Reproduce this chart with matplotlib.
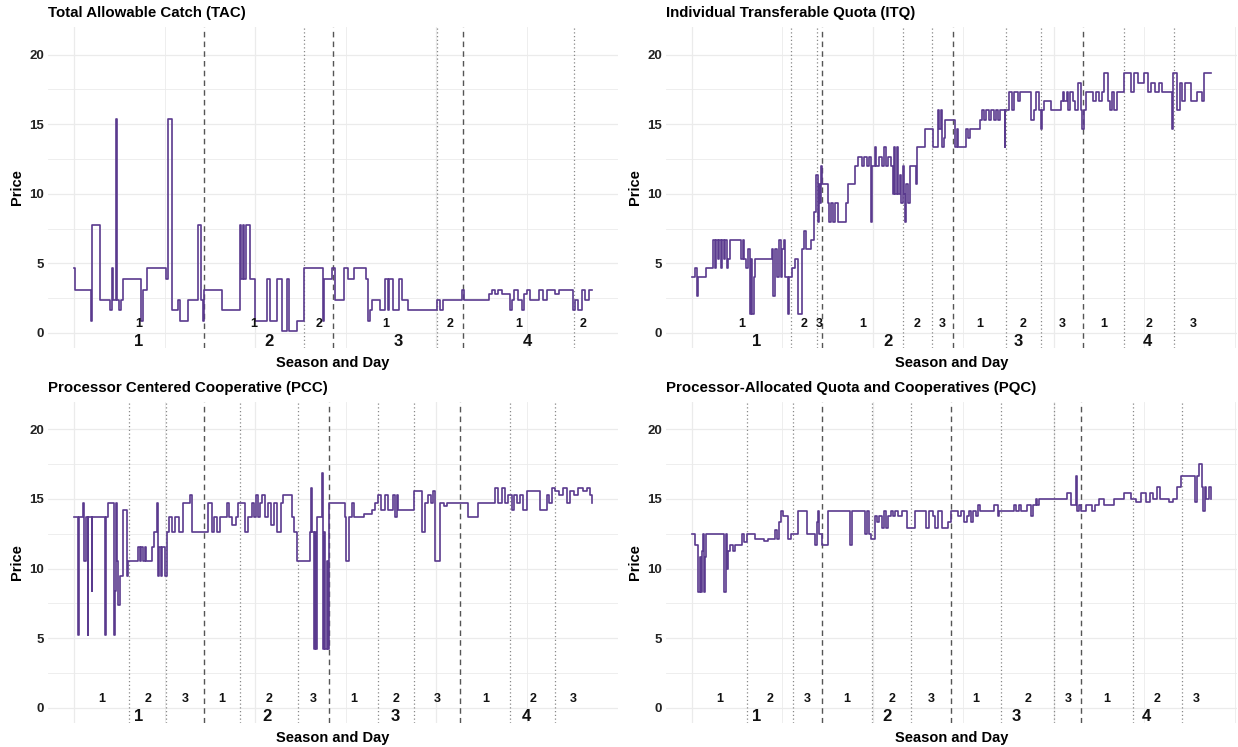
import matplotlib
matplotlib.use("Agg")
import matplotlib.pyplot as plt
import numpy as np

plt.rcParams['font.family'] = ['Liberation Sans', 'DejaVu Sans']

# step series: time of each price change (minutes from open) and the new price
tac_t = [0, 3, 47, 51, 72, 99, 104, 108, 116, 119, 125, 131, 136, 185, 191, 202, 254, 259, 271, 288,
         293, 315, 341, 350, 355,
         358, 408, 458, 462, 466, 470, 474, 486, 500, 534, 541, 561, 574, 587, 593, 615, 636, 686, 690, 712,
         716, 720, 746, 757, 774, 805, 811, 816, 822, 845, 857, 866, 870, 881, 897, 904, 921, 1001, 1010, 1019,
         1072, 1077, 1144, 1153, 1162, 1171, 1180, 1203, 1208, 1213, 1226, 1236, 1241, 1250, 1259, 1282, 1295,
         1305, 1328, 1337, 1378, 1383, 1392, 1401, 1410, 1420, 1430]
tac_p = [4.67, 3.1, 0.83, 7.74, 2.38, 1.62, 4.67, 2.38, 15.36, 2.38, 1.62, 2.38, 3.88, 0.83, 3.1, 4.67, 3.88, 15.36, 1.62, 2.38,
         0.83, 2.38, 7.74, 2.38, 0.83,
         3.1, 1.62, 7.74, 3.88, 7.74, 3.88, 7.74, 3.88, 0.83, 3.88, 0.83, 3.88, 0.12, 3.88, 0.12, 0.83, 4.67, 0.83, 3.88, 4.67,
         4.67, 2.38, 4.67, 3.88, 4.67, 3.88, 0.83, 1.62, 2.38, 1.62, 3.88, 1.62, 3.88, 1.62, 3.88, 2.38, 1.62, 2.38, 1.62, 2.38,
         3.1, 2.38, 2.8, 3.1, 2.8, 3.1, 2.8, 1.62, 2.38, 3.1, 2.38, 1.62, 2.8, 3.1, 2.38, 3.1, 2.38,
         3.1, 2.8, 3.1, 1.62, 2.38, 1.62, 3.1, 2.38, 3.1, 3.1]

itq_t = [0, 8, 14, 16, 40, 59, 63, 67, 71, 75, 80, 84, 88, 92, 96, 100, 104, 130, 135, 140, 145, 150, 155, 160,
         163, 166, 170, 174, 220, 224, 229, 236, 240, 246, 250, 255, 258, 264, 268, 276, 284, 293, 304, 310,
         314, 328, 338, 344, 348, 351, 354, 356, 360, 376, 380, 384, 390, 395, 404, 427, 432, 450, 458, 470,
         476, 484, 490, 496, 498, 506, 510, 516, 524, 530, 536, 542, 550, 556, 558, 562, 566, 570, 574, 578,
         582, 586, 588, 592, 598, 602, 620, 622, 643, 666, 680, 684, 688, 692, 696, 700,
         721, 726, 732, 736, 753, 758, 762, 768, 790, 796, 802, 808, 814, 820, 826, 834, 840, 846, 852, 864,
         866, 877, 884, 890, 900, 906, 937, 945, 950, 958, 965, 969, 974, 992, 1020, 1026, 1029, 1036, 1040,
         1046, 1052, 1060, 1066, 1075, 1078, 1084, 1090, 1110, 1118, 1126, 1134, 1140, 1149, 1155, 1160, 1168,
         1175, 1195, 1213, 1222, 1232, 1250, 1260, 1268, 1280, 1290, 1300, 1328, 1331, 1340, 1342, 1350, 1356,
         1362, 1380, 1397, 1410, 1416, 1436]
itq_p = [4.0, 4.67, 2.67, 4.0, 4.67, 6.67, 4.67, 6.67, 5.33, 6.67, 4.67, 6.67, 5.33, 6.67, 4.67, 5.33, 6.67, 6.67, 5.33, 6.67, 5.33, 4.67, 6.0, 1.33,
         5.33, 1.33, 4.0, 5.33, 6.0, 2.67, 6.0, 4.0, 6.67, 4.0, 6.0, 6.67, 4.0, 1.33, 4.0, 4.67, 5.33, 1.33, 6.0, 7.33,
         6.0, 6.67, 8.67, 11.33, 8.0, 10.67, 9.33, 12.0, 10.67, 9.33, 8.0, 9.33, 8.0, 9.33, 8.0, 9.33, 10.67, 12.0, 12.67, 12.0,
         12.67, 12.0, 12.67, 8.0, 12.0, 13.33, 12.0, 12.67, 12.0, 13.33, 12.0, 12.67, 12.0, 10.0, 13.33, 10.0, 13.33, 10.0, 11.33, 9.33,
         12.0, 10.0, 8.0, 10.67, 9.33, 12.0, 10.67, 13.33, 14.67, 13.33, 16.0, 14.67, 16.0, 13.33, 14.0, 15.33,
         15.33, 13.33, 14.67, 13.33, 13.33, 14.67, 14.0, 14.67, 14.67, 15.33, 16.0, 15.33, 16.0, 15.33, 16.0, 15.33, 16.0, 15.33, 16.0, 13.33,
         16.0, 17.33, 16.0, 17.33, 16.67, 17.33, 15.33, 16.0, 17.33, 16.0, 14.67, 16.0, 16.67, 16.0, 16.67, 17.33, 16.67, 17.33, 16.0,
         17.33, 16.67, 16.0, 18.0, 16.0, 14.67, 16.0, 17.33, 16.67, 17.33, 16.67, 17.33, 18.67, 16.67, 16.0, 17.33, 16.0,
         17.33, 18.67, 17.33, 18.67, 18.0, 18.67, 17.33, 18.0, 17.33, 18.0, 17.33, 14.67, 18.67, 17.33, 16.0, 18.0, 16.67,
         18.0, 16.67, 17.33, 16.67, 18.67, 18.67]

pcc_t = [0, 12, 15, 26, 29, 33, 38, 40, 49, 51, 86, 88, 95, 111, 113, 116, 118, 122, 127, 136, 145, 150, 178, 182,
         186, 190, 196, 200, 216, 220, 228, 233, 236, 240, 242, 251, 256, 262, 270, 280, 290, 302, 320, 325,
         371, 380, 386, 394, 402, 421, 428, 436, 446, 454, 472, 480, 490, 496, 502, 508, 514, 520, 526, 536,
         544, 552, 560, 570, 578, 601, 608, 615, 651, 654, 656, 662, 665, 668, 672, 684, 687, 690, 694, 698, 702,
         705, 748, 750, 759, 766, 772, 800, 822, 830, 840, 848, 858, 866, 881, 886, 890, 894, 900, 937, 960,
         969, 976, 984, 992, 996, 1010, 1020, 1030, 1088, 1116, 1162, 1171, 1180, 1188, 1199, 1208, 1214, 1222,
         1232, 1240, 1250, 1286, 1305, 1312, 1320, 1328, 1337, 1350, 1360, 1370, 1380, 1392, 1405, 1415, 1425, 1430]
pcc_p = [13.67, 5.26, 13.67, 14.74, 10.53, 13.67, 5.26, 13.67, 8.42, 13.67, 5.26, 13.67, 14.74, 5.26, 8.42, 14.74, 10.53, 7.37, 9.47, 14.21, 9.47, 10.53, 11.58, 10.53,
         11.58, 10.53, 11.58, 10.53, 11.58, 12.63, 14.74, 9.47, 11.58, 9.47, 11.58, 9.47, 12.63, 13.67, 12.63, 13.67, 12.63, 14.74, 15.26, 12.63,
         14.74, 12.63, 13.67, 12.63, 13.67, 14.74, 13.67, 13.16, 13.67, 14.74, 12.63, 13.67, 14.74, 13.67, 15.26, 13.67, 14.74, 15.26, 13.67, 14.74,
         13.16, 14.74, 12.63, 14.74, 15.26, 13.67, 12.63, 10.53, 12.63, 15.79, 12.63, 4.21, 12.63, 4.21, 13.67, 16.84, 4.21, 12.63, 4.21, 10.53, 4.21,
         14.74, 13.67, 10.53, 13.67, 14.74, 13.67, 13.9, 14.21, 14.74, 15.26, 14.21, 15.26, 14.21, 15.26, 13.67, 15.26, 14.21, 14.21, 15.58, 12.63,
         14.74, 15.26, 14.74, 15.58, 10.53, 14.74, 14.5, 14.74, 13.67, 14.74, 15.79, 14.74, 15.79, 14.74, 15.26, 14.21, 15.26, 14.74,
         15.26, 14.21, 15.58, 14.21, 15.26, 14.74, 15.79, 15.58, 15.26, 15.79, 14.74, 15.58, 15.26, 15.79, 15.58, 15.79, 15.26, 14.74]

pqc_t = [0, 8, 16, 22, 25, 28, 31, 34, 37, 40, 89, 94, 96, 100, 106, 114, 120, 137, 144, 151, 174, 200, 210, 229,
         236, 240, 247, 252, 266, 275, 293, 317, 340, 345, 349, 352, 358, 376, 436, 441, 478, 484, 490, 496,
         505, 512, 518, 524, 530, 536, 542, 550, 556, 562, 570, 580, 593, 616, 648, 656, 666, 672, 680, 690, 708,
         716, 735, 745, 752, 760, 767, 772, 778, 784, 790, 795, 836, 845, 850, 891, 897, 904, 910, 925, 937, 942,
         950, 955, 960, 1038, 1048, 1061, 1064, 1070, 1075, 1090, 1107, 1115, 1125, 1140, 1167, 1195, 1213, 1227,
         1240, 1255, 1265, 1275, 1285, 1295, 1320, 1330, 1342, 1351, 1390, 1395, 1402, 1411, 1414, 1418, 1422, 1428, 1436]
pqc_p = [12.5, 11.67, 8.33, 10.83, 8.33, 11.25, 12.5, 8.33, 10.83, 12.5, 8.33, 12.5, 10.0, 11.25, 11.67, 11.25, 11.67, 12.5, 11.9, 12.5, 12.1, 12.0, 12.1, 12.8,
         12.1, 13.33, 14.17, 13.75, 12.1, 12.5, 14.17, 12.5, 11.67, 13.33, 14.17, 12.5, 11.67, 14.17, 11.67, 14.17, 12.5, 14.17, 12.5, 12.1,
         13.75, 13.33, 13.75, 12.92, 14.17, 12.92, 13.75, 14.17, 13.75, 14.17, 13.75, 14.17, 12.92, 14.17, 12.92, 14.17, 13.75, 12.92, 14.17, 12.92, 13.33,
         14.17, 13.75, 14.17, 13.33, 13.75, 14.17, 13.33, 14.17, 13.75, 14.58, 14.17, 14.58, 13.75, 14.17, 14.58, 14.17, 14.58, 14.17, 14.58, 13.75, 14.58,
         15.0, 14.58, 15.0, 15.42, 14.58, 16.67, 14.17, 14.58, 14.17, 14.58, 14.17, 14.58, 15.0, 14.58, 15.0, 15.42, 15.0, 14.79,
         15.42, 14.79, 15.42, 15.0, 15.83, 15.0, 14.79, 15.0, 15.83, 16.67, 14.79, 16.67, 17.5, 15.83, 14.17, 15.83, 15.0, 15.83, 15.0]

# day edges inside each season (first and last entries are the season limits)
tac_days = [[0, 358], [358, 636, 716], [716, 1002, 1073], [1073, 1381, 1430]]
itq_days = [[0, 273, 346, 360], [360, 582, 664, 722], [722, 868, 964, 1081], [1081, 1195, 1333, 1436]]
pcc_days = [[0, 153, 254, 358], [358, 459, 617, 705], [705, 838, 937, 1066], [1066, 1204, 1328, 1430]]
pqc_days = [[0, 153, 278, 360], [360, 498, 606, 716], [716, 855, 1002, 1076], [1076, 1220, 1354, 1436]]

titles = ["Total Allowable Catch (TAC)", "Individual Transferable Quota (ITQ)",
          "Processor Centered Cooperative (PCC)", "Processor-Allocated Quota and Cooperatives (PQC)"]
panels = [(tac_t, tac_p, tac_days), (itq_t, itq_p, itq_days),
          (pcc_t, pcc_p, pcc_days), (pqc_t, pqc_p, pqc_days)]

LINE = '#5a3a8e'
GRID = '#ebebeb'

fig = plt.figure(figsize=(12.38, 7.47), dpi=100)
boxes = [[0.0388, 0.534, 0.4605, 0.430], [0.538, 0.534, 0.4615, 0.430],
         [0.0388, 0.032, 0.4605, 0.4305], [0.538, 0.032, 0.4615, 0.4305]]

for box, title, (t, p, days) in zip(boxes, titles, panels):
    ax = fig.add_axes(box)
    for s in ax.spines.values():
        s.set_visible(False)
    end = days[-1][-1]
    ax.set_xlim(-0.05 * end, end * 1.05)
    ax.set_ylim(-1.1, 22)
    ax.set_yticks([0, 5, 10, 15, 20])
    ax.set_yticks([2.5, 7.5, 12.5, 17.5], minor=True)
    ax.set_xticks([0, 500, 1000])
    ax.set_xticks([250, 750, 1250, 1500], minor=True)
    ax.grid(True, which='major', color=GRID, lw=0.9)
    ax.grid(True, which='minor', color=GRID, lw=0.6)
    ax.set_axisbelow(True)
    ax.tick_params(which='both', length=0)
    ax.tick_params(axis='y', labelsize=9.5, pad=3, labelcolor='#222222')
    ax.set_xticklabels([])
    for lab in ax.get_yticklabels():
        lab.set_fontweight('bold')

    tt = list(t) + [end]
    pp = list(p) + [p[-1]]
    ax.step(tt, pp, where='post', color=LINE, lw=1.2, zorder=3)

    for si, edges in enumerate(days):
        if si > 0:
            ax.axvline(edges[0], color='#555555', ls=(0, (4, 3)), lw=1.0, zorder=2)
        for e in edges[1:-1]:
            ax.axvline(e, color='#888888', ls=(0, (1, 2)), lw=0.9, zorder=2)
        for di in range(len(edges) - 1):
            ax.text((edges[di] + edges[di + 1]) / 2, 0.6, str(di + 1), ha='center', va='center',
                    fontsize=9, fontweight='bold', color='#111111')
        ax.text((edges[0] + edges[-1]) / 2, -0.62, str(si + 1), ha='center', va='center',
                fontsize=12, fontweight='bold', color='#111111')

    ax.set_title(title, loc='left', fontsize=10.8, fontweight='bold', pad=7)
    ax.set_ylabel("Price", fontsize=10.5, fontweight='bold', labelpad=4)
    ax.set_xlabel("Season and Day", fontsize=10.5, fontweight='bold', labelpad=2)

fig.savefig("out.png", dpi=100)
